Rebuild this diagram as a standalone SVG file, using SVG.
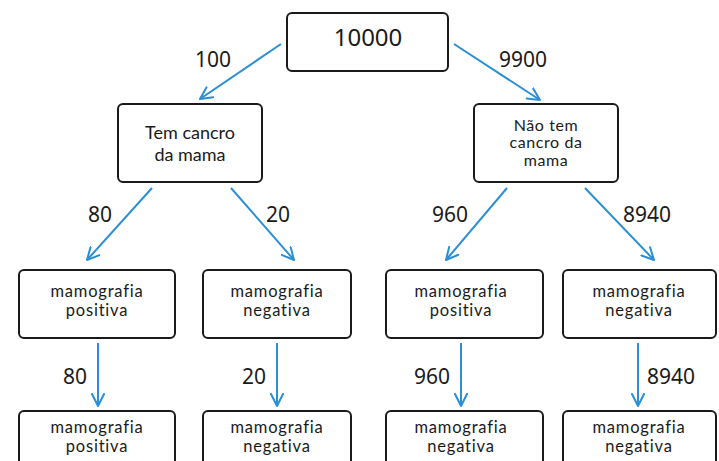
<svg xmlns="http://www.w3.org/2000/svg" width="719" height="461" viewBox="0 0 719 461">
<defs>
<marker id="ah" viewBox="0 0 14 14" refX="13" refY="7" markerWidth="14" markerHeight="14" markerUnits="userSpaceOnUse" orient="auto">
<path d="M1,1 L13,7 L1,13" fill="none" stroke="#2b8fd5" stroke-width="2" stroke-linecap="round" stroke-linejoin="round"/>
</marker>
<style>
.box{fill:#fff;stroke:#1a1a1a;stroke-width:2}
.t{font-family:Lato,"Noto Sans",sans-serif;font-size:16.5px;fill:#1a1a1a;text-anchor:middle;letter-spacing:0.8px;font-variant-ligatures:none}
.r{font-size:16px;letter-spacing:0.6px}
.n{font-family:"Noto Sans","Open Sans",sans-serif;font-size:21px;fill:#1a1a1a;text-anchor:middle}
.c{stroke:#2b8fd5;stroke-width:2;fill:none;marker-end:url(#ah)}
</style>
</defs>
<rect width="719" height="461" fill="#fff"/>
<g id="connectors">
<line class="c" x1="281" y1="44" x2="200" y2="99"/>
<line class="c" x1="454" y1="44" x2="540" y2="100"/>
<line class="c" x1="152" y1="188" x2="87" y2="260"/>
<line class="c" x1="231" y1="188" x2="294" y2="260"/>
<line class="c" x1="507" y1="188" x2="446" y2="260"/>
<line class="c" x1="585" y1="188" x2="654" y2="260"/>
<line class="c" x1="98" y1="343" x2="98" y2="406"/>
<line class="c" x1="277" y1="343" x2="277" y2="406"/>
<line class="c" x1="461" y1="343" x2="461" y2="406"/>
<line class="c" x1="638" y1="343" x2="638" y2="406"/>
<text class="n" x="213" y="67">100</text>
<text class="n" x="523" y="67">9900</text>
<text class="n" x="100" y="222">80</text>
<text class="n" x="278" y="222">20</text>
<text class="n" x="450" y="222">960</text>
<text class="n" x="647" y="222">8940</text>
<text class="n" x="75" y="384">80</text>
<text class="n" x="254" y="384">20</text>
<text class="n" x="432" y="384">960</text>
<text class="n" x="671" y="384">8940</text>
</g>
<g id="root"><rect class="box" x="287" y="13" width="161" height="58" rx="5"/><text class="n" x="368" y="46" style="font-size:24px">10000</text></g>
<g id="tem"><rect class="box" x="118" y="104" width="144" height="78" rx="5"/><text class="t" x="190" y="139" style="font-size:18px;letter-spacing:0">Tem cancro</text><text class="t" x="190" y="161" style="font-size:18px;letter-spacing:0">da mama</text></g>
<g id="naotem"><rect class="box" x="474" y="104" width="144" height="78" rx="5"/><text class="t r" x="546" y="130.5">Não tem</text><text class="t r" x="546" y="148">cancro da</text><text class="t r" x="546" y="165.5">mama</text></g>
<g id="a2"><rect class="box" x="19" y="270" width="156" height="68" rx="5"/><text class="t" x="97" y="296.5">mamografia</text><text class="t" x="97" y="316">positiva</text></g>
<g id="b2"><rect class="box" x="203" y="270" width="148" height="68" rx="5"/><text class="t" x="277" y="296.5">mamografia</text><text class="t" x="277" y="316">negativa</text></g>
<g id="c2"><rect class="box" x="386" y="270" width="157" height="68" rx="5"/><text class="t" x="461" y="296.5">mamografia</text><text class="t" x="461" y="316">positiva</text></g>
<g id="d2"><rect class="box" x="563" y="270" width="153" height="68" rx="5"/><text class="t" x="639" y="296.5">mamografia</text><text class="t" x="639" y="316">negativa</text></g>
<g id="a3"><rect class="box" x="19" y="411" width="156" height="68" rx="5"/><text class="t" x="97" y="432.5">mamografia</text><text class="t" x="97" y="452">positiva</text></g>
<g id="b3"><rect class="box" x="203" y="411" width="148" height="68" rx="5"/><text class="t" x="277" y="432.5">mamografia</text><text class="t" x="277" y="452">negativa</text></g>
<g id="c3"><rect class="box" x="386" y="411" width="157" height="68" rx="5"/><text class="t" x="461" y="432.5">mamografia</text><text class="t" x="461" y="452">negativa</text></g>
<g id="d3"><rect class="box" x="563" y="411" width="153" height="68" rx="5"/><text class="t" x="639" y="432.5">mamografia</text><text class="t" x="639" y="452">negativa</text></g>
</svg>
